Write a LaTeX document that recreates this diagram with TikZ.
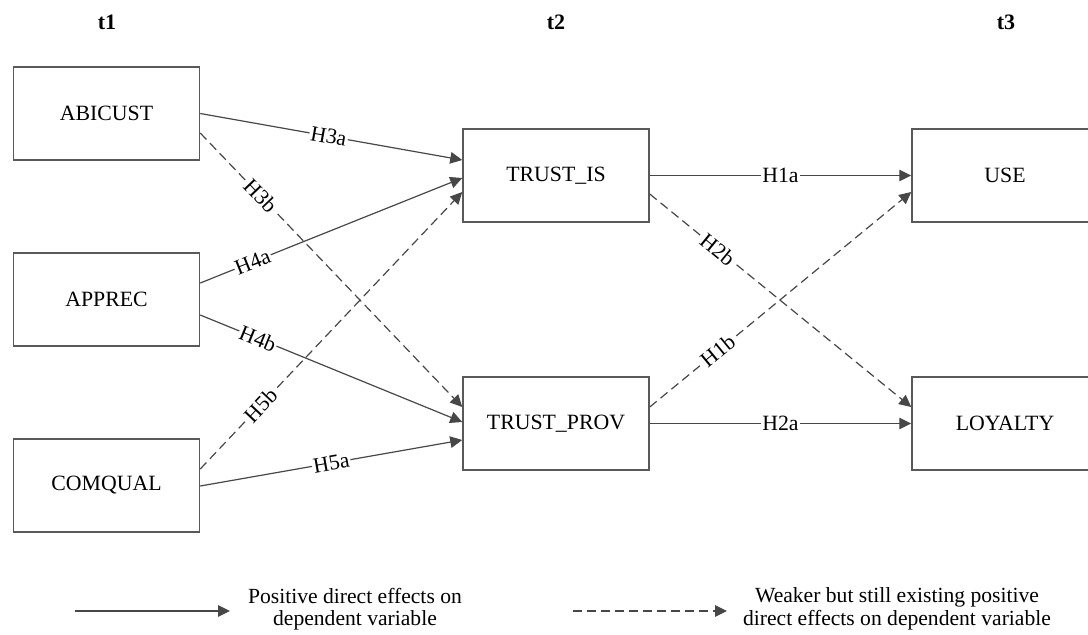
\documentclass[tikz,border=0pt]{standalone}
\usepackage{fontspec}
\setmainfont{Liberation Serif}
\usetikzlibrary{arrows.meta,calc}
\begin{document}
\begin{tikzpicture}[x=0.5pt,y=-0.5pt,
  box/.style={draw=black!65,line width=0.75pt,minimum width=93pt,minimum height=46.5pt,inner sep=0pt,font=\fontsize{10.9}{12}\selectfont},
  conn/.style={draw=black!72,line width=0.6pt,-{Triangle[length=6pt,width=5.8pt]}},
  weak/.style={conn,dash pattern=on 4.5pt off 2.5pt},
  lab/.style={fill=white,inner sep=0.6pt,sloped,font=\fontsize{10.9}{12}\selectfont},
  ttl/.style={font=\fontsize{11}{12}\selectfont\bfseries},
  legend/.style={align=center,inner sep=0pt,font=\fontsize{10.8}{11.3}\selectfont}]
\useasboundingbox (0,0) rectangle (1088,634);
\clip (0,0) rectangle (1088,634);

% titles
\node[ttl] (t1) at (107,22) {t1};
\node[ttl] (t2) at (556,22) {t2};
\node[ttl] (t3) at (1006,22) {t3};

% boxes
\node[box] (abicust) at (106.5,113.5) {ABICUST};
\node[box] (apprec) at (106.5,299.5) {APPREC};
\node[box] (comqual) at (106.5,485.5) {COMQUAL};
\node[box] (trustis) at (556,175.5) {TRUST\_IS};
\node[box] (trustprov) at (556,423.5) {TRUST\_PROV};
\node[box] (use) at (1005,175.5) {USE};
\node[box] (loyalty) at (1005,423.5) {LOYALTY};

% t1 -> t2
\draw[conn] ($(abicust.east)+(0,0)$) -- ($(trustis.west)+(0,-15.5)$) node[lab,pos=0.49] (h3a) {H3a};
\draw[weak] ($(abicust.east)+(0,19.5)$) -- ($(trustprov.west)+(0,-16.5)$) node[lab,pos=0.23] (h3b) {H3b};
\draw[conn] ($(apprec.east)+(0,-16.5)$) -- ($(trustis.west)+(0,2.5)$) node[lab,pos=0.2] (h4a) {H4a};
\draw[conn] ($(apprec.east)+(0,15.5)$) -- ($(trustprov.west)+(0,-1.5)$) node[lab,pos=0.22] (h4b) {H4b};
\draw[weak] ($(comqual.east)+(0,-16.5)$) -- ($(trustis.west)+(0,16.5)$) node[lab,pos=0.23] (h5b) {H5b};
\draw[conn] ($(comqual.east)+(0,0.5)$) -- ($(trustprov.west)+(0,16.5)$) node[lab,pos=0.5] (h5a) {H5a};

% t2 -> t3
\draw[conn] (trustis.east) -- (use.west) node[lab,pos=0.5] (h1a) {H1a};
\draw[weak] ($(trustis.east)+(0,18.5)$) -- ($(loyalty.west)+(0,-16.5)$) node[lab,pos=0.26] (h2b) {H2b};
\draw[weak] ($(trustprov.east)+(0,-16.5)$) -- ($(use.west)+(0,16.5)$) node[lab,pos=0.26] (h1b) {H1b};
\draw[conn] (trustprov.east) -- (loyalty.west) node[lab,pos=0.5] (h2a) {H2a};

% legend
\coordinate (ls1) at (75,611);
\coordinate (ls2) at (230,611);
\coordinate (ld1) at (573,611);
\coordinate (ld2) at (727,611);
\draw[conn] (ls1) -- (ls2);
\draw[weak] (ld1) -- (ld2);
\node[legend] (legs) at (355,609) {Positive direct effects on\\dependent variable};
\node[legend] (legw) at (897,609) {Weaker but still existing positive\\direct effects on dependent variable};
\end{tikzpicture}
\end{document}
